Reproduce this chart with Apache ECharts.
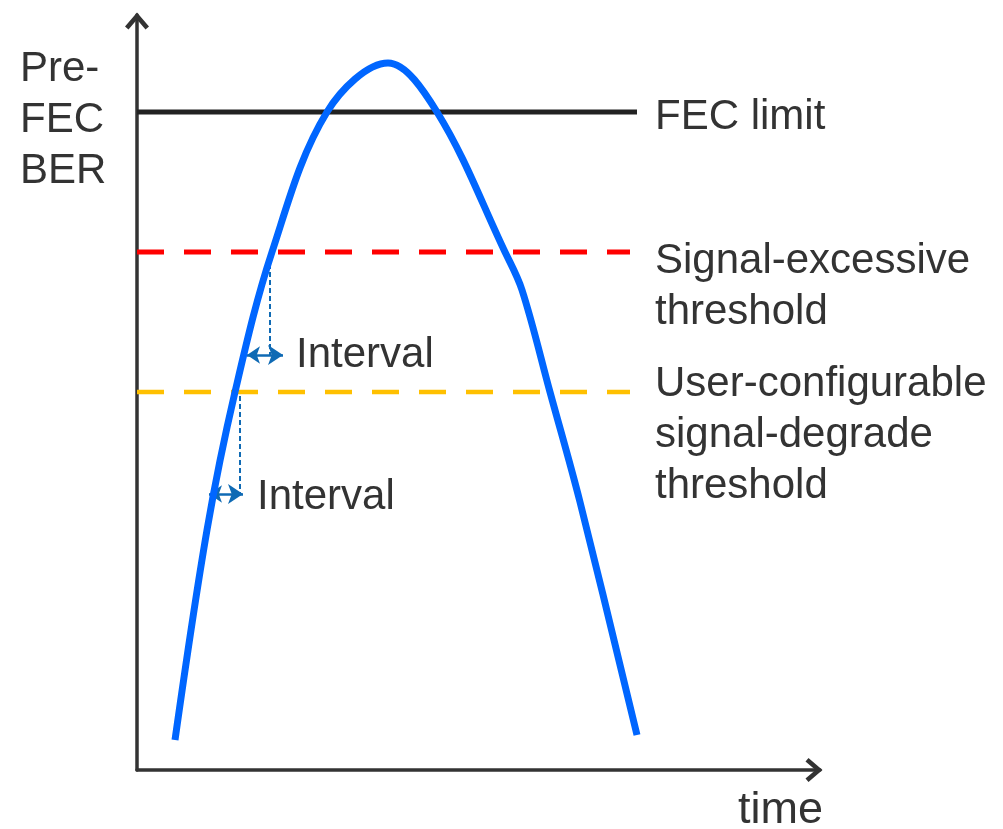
<!DOCTYPE html>
<html>
<head>
<meta charset="utf-8">
<script src="https://cdn.jsdelivr.net/npm/echarts@6/dist/echarts.min.js"></script>
<style>
  html, body { margin: 0; padding: 0; background: #fff; }
  #chart { width: 1003px; height: 829px; }
</style>
</head>
<body>
<div id="chart"></div>
<script>
// values (time / BER units, arbitrary scale)
var berCurve = [
  [38, 30], [70, 240], [98, 378], [135, 518], [190, 658], [251, 707],
  [300, 658], [368, 518], [385, 480], [413, 378], [443, 268], [500, 35]
];
var fecLimit = 658;
var excessiveLevel = 518;
var degradeLevel = 378;
var lineEnd = [500, 493, 493];

// interval guides: [x at threshold, x of curve at arrow, arrow end, arrow level, threshold]
var intervalA = [133, 110, 146, 415, 518];
var intervalB = [103, 72, 106, 276, 378];

var labelFec = 'FEC limit';
var labelExcessive = 'Signal-excessive\nthreshold';
var labelDegrade = 'User-configurable\nsignal-degrade\nthreshold';
var labelInterval = 'Interval';
var labelY = 'Pre-\nFEC\nBER';
var labelX = 'time';

var myChart = echarts.init(document.getElementById('chart'));

var textStyleBase = {
    fill: '#333333',
    fontFamily: 'Liberation Sans, Arial, sans-serif',
    fontSize: 42,
    lineHeight: 51
};

function txt(text, x, y, extra) {
    var st = Object.assign({ text: text, x: 0, y: 0, verticalAlign: 'top' }, textStyleBase, extra || {});
    return { type: 'text', x: x, y: y, silent: true, style: st };
}

// open chevron head for the axes
var chevron = 'path://M12,0 L24,14 L20.5,17 L12,7 L3.5,17 L0,14 Z';

function guideSeries(g) {
    return [{
        type: 'lines',
        coordinateSystem: 'cartesian2d',
        silent: true,
        symbol: ['none', 'none'],
        lineStyle: { color: '#0F6AB4', width: 2, type: [5, 3], opacity: 1 },
        data: [{ coords: [[g[0], g[4] - 4], [g[0], g[3]]] }]
    }, {
        type: 'lines',
        coordinateSystem: 'cartesian2d',
        silent: true,
        symbol: ['arrow', 'arrow'],
        symbolSize: [13, 15],
        lineStyle: { color: '#0F6AB4', width: 2.5, type: 'solid', opacity: 1 },
        data: [{ coords: [[g[1], g[3]], [g[2], g[3]]] }]
    }];
}

var series = [{
    type: 'line',
    data: [[0, fecLimit], [lineEnd[0], fecLimit]],
    showSymbol: false,
    lineStyle: { color: '#222222', width: 5 }
}, {
    type: 'line',
    data: [[0, excessiveLevel], [lineEnd[1], excessiveLevel]],
    showSymbol: false,
    lineStyle: { color: '#FF0000', width: 5, type: [27, 20] }
}, {
    type: 'line',
    data: [[0, degradeLevel], [lineEnd[2], degradeLevel]],
    showSymbol: false,
    lineStyle: { color: '#FFC000', width: 4.5, type: [27, 20] }
}, {
    type: 'line',
    data: berCurve,
    smooth: 0.35,
    showSymbol: false,
    lineStyle: { color: '#0066FF', width: 7 }
}].concat(guideSeries(intervalA), guideSeries(intervalB));

myChart.setOption({
    backgroundColor: '#ffffff',
    animation: false,
    grid: { left: 137, top: 15, right: 183, bottom: 59, containLabel: false },
    xAxis: {
        type: 'value',
        min: 0,
        max: 683,
        axisLabel: { show: false },
        axisTick: { show: false },
        splitLine: { show: false },
        axisLine: {
            show: true,
            symbol: ['none', chevron],
            symbolSize: [24, 17],
            symbolOffset: [0, -6],
            lineStyle: { color: '#333333', width: 3.5 }
        }
    },
    yAxis: {
        type: 'value',
        min: 0,
        max: 755,
        axisLabel: { show: false },
        axisTick: { show: false },
        splitLine: { show: false },
        axisLine: {
            show: true,
            symbol: ['none', chevron],
            symbolSize: [24, 17],
            symbolOffset: [0, -6],
            lineStyle: { color: '#333333', width: 3.5 }
        }
    },
    series: series,
    graphic: [
        txt(labelY, 20, 44),
        txt(labelFec, 655, 92),
        txt(labelExcessive, 655, 236),
        txt(labelDegrade, 655, 359),
        txt(labelInterval, 296, 330),
        txt(labelInterval, 257, 472),
        txt(labelX, 738, 785, { fontSize: 45 })
    ]
});
</script>
</body>
</html>
